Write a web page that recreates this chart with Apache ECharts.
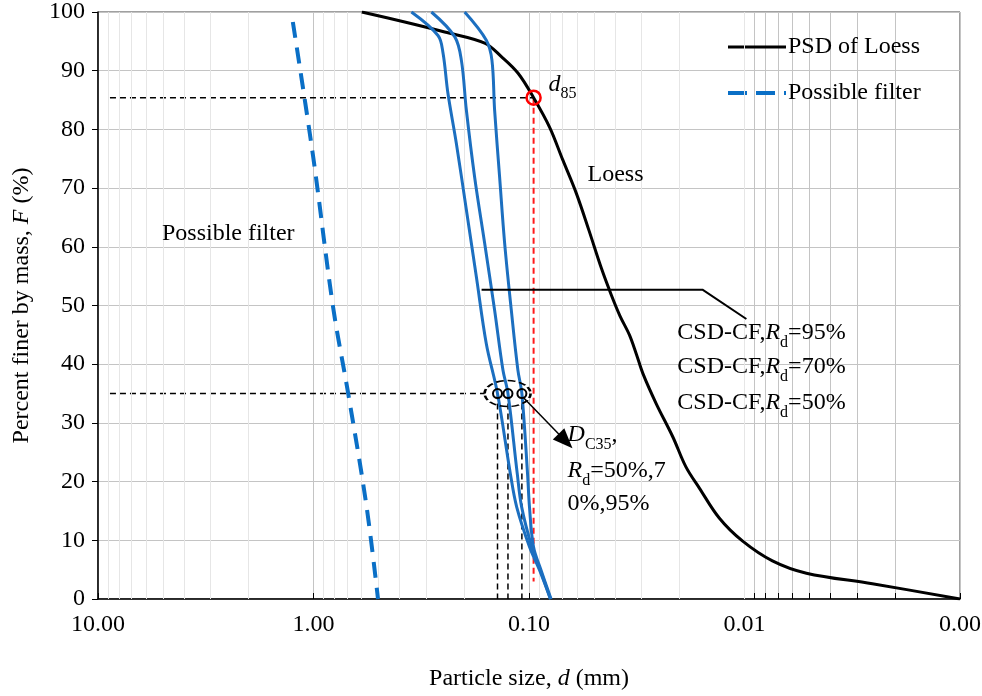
<!DOCTYPE html>
<html><head><meta charset="utf-8">
<script src="https://cdn.jsdelivr.net/npm/echarts@6/dist/echarts.min.js"></script>
<style>html,body{margin:0;padding:0;background:#fff}#c{width:982px;height:696px}</style>
</head><body><div id="c"></div>
<script>
// ---- data (d in mm, F in %) ----
const loess = [[0.597,100],[0.3773,98.3],[0.2462,96.6],[0.1606,94.7],[0.1344,92.4],[0.1126,89.6],[0.0952,85.4],[0.0803,80.4],[0.0697,74.8],[0.0603,69.1],[0.0527,62.8],[0.0460,56.2],[0.0415,51.8],[0.0378,48.2],[0.0342,45.0],[0.0318,41.8],[0.0296,38.4],[0.0257,33.3],[0.0215,27.6],[0.0187,22.5],[0.0162,18.9],[0.0131,13.8],[0.01023,9.9],[0.00742,6.5],[0.00516,4.4],[0.00255,2.6],[0.001,0]];
const csd50 = [[0.3513,100],[0.2644,96],[0.2506,93],[0.2377,86.1],[0.2173,77.6],[0.1953,66.3],[0.1755,54.9],[0.1578,43.5],[0.140,35],[0.1221,21.4],[0.1141,15.7],[0.0995,8.9],[0.0893,4.9],[0.0795,0]];
const csd70 = [[0.2837,100],[0.2213,95.8],[0.2060,91.8],[0.1953,83.3],[0.1788,71.9],[0.1606,60.6],[0.1444,49.2],[0.1321,39.0],[0.1252,35],[0.1134,21.4],[0.1082,15.7],[0.0971,8.9],[0.0886,4.9],[0.0795,0]];
const csd95 = [[0.1989,100],[0.1578,95.2],[0.1486,91.8],[0.1444,83.3],[0.1369,71.9],[0.1297,60.6],[0.1208,49.2],[0.1126,39.0],[0.1079,35],[0.1016,21.4],[0.0995,15.7],[0.0953,8.9],[0.0879,4.9],[0.0790,0]];
const filter = [[1.247,98.3],[1.005,75.5],[0.811,49.7],[0.691,35.1],[0.568,15.9],[0.502,0]];
const d85Point = [0.0952, 85.4];
const dc35Points = [[0.140,35],[0.1252,35],[0.1079,35]];
const refLeft = 8.8;
const redBottom = 3;
const ref35End = 0.1607;
const ellipseCenter = [0.1257, 35];
const leader = [[0.166,52.7],[0.01567,52.7],[0.0098,47.7]];
const arrow = [[0.106,34.3],[0.0677,26.9]];
const xMajor = [10, 1, 0.1, 0.01, 0.001];
const xTickLabels = ['10.00','1.00','0.10','0.01','0.00'];
const minorFactors = [2,3,4,5,6,7,8,9];
const textLabels = [
  {pos:[5.05,62.3], text:'Possible filter'},
  {pos:[0.0535,72.2], text:'Loess'},
  {pos:[0.0811,87.7], text:'{i|d}{s|85}'},
  {pos:[0.0205,45.3], text:'CSD-CF,{ri|R}{s|d}=95%'},
  {pos:[0.0205,39.5], text:'CSD-CF,{ri|R}{s|d}=70%'},
  {pos:[0.0205,33.5], text:'CSD-CF,{ri|R}{s|d}=50%'},
  {pos:[0.0662,22.4], text:'{i|D}{s|C35},\n{ri|R}{s|d}=50%,7\n0%,95%'}
];

// ---- build ----
const FONT = 'Liberation Serif';
const minorVals = [];
[0.001,0.01,0.1,1].forEach(dec => minorFactors.forEach(k => minorVals.push(+(k*dec).toPrecision(3))));
const allTicks = xMajor.concat(minorVals);
const blue = '#1c6fc0';
const fblue = '#0a6fc6';
const base = {fontFamily: FONT, fontSize: 24, color: '#000'};
const rich = {
  i: {fontFamily: FONT, fontSize: 24, fontStyle: 'italic', color:'#000', lineHeight: 30},
  ri: {fontFamily: FONT, fontSize: 24, fontStyle: 'italic', color:'#000', lineHeight: 30},
  s: {fontFamily: FONT, fontSize: 16, color:'#000', verticalAlign: 'bottom', lineHeight: 36}
};
const dashBlack = {color:'#000', width:1.5, type:[6,4]};
const curve = (name, data, color, width, type) => ({type:'line', name, data, symbol:'none', smooth: 0.35,
  lineStyle:{color, width, type: type || 'solid'}, itemStyle:{color}, z:5});

const chart = echarts.init(document.getElementById('c'));
chart.setOption({
  animation: false,
  grid: {left: 98, right: 22, top: 12, bottom: 97, outerBoundsMode: 'none', containLabel: false,
    show: true, borderColor: '#404040', borderWidth: 1, backgroundColor: 'transparent'},
  legend: {
    data: [
      {name:'PSD of Loess', lineStyle:{width:3, color:'#000', type:'solid'}},
      {name:'Possible filter', lineStyle:{width:4, color:fblue, type:[19,9]}}
    ],
    orient: 'vertical', left: 721, top: 30, itemWidth: 58, itemHeight: 20, itemGap: 22,
    itemStyle: {opacity: 0},
    textStyle: Object.assign({}, base, {padding:[0,0,0,-3]})
  },
  xAxis: {
    type: 'log', logBase: 10, min: 0.001, max: 10, inverse: true,
    name: 'Particle size, {i|d} (mm)', nameLocation: 'middle', nameGap: 68,
    nameTextStyle: Object.assign({}, base, {rich: {i: {fontFamily: FONT, fontSize: 24, fontStyle:'italic', color:'#000'}}}),
    axisLine: {lineStyle: {color:'#000', width: 1.5}},
    axisTick: {show: true, inside: true, length: 6, lineStyle:{color:'#000', width:1}, customValues: allTicks},
    axisLabel: Object.assign({}, base, {margin: 14, customValues: xMajor,
      formatter: v => { const i = xMajor.findIndex(m => Math.abs(Math.log10(m) - Math.log10(v)) < 1e-6); return i >= 0 ? xTickLabels[i] : ''; }}),
    splitLine: {show: true, lineStyle: {color:'#c4c4c4', width: 1}}
  },
  yAxis: {
    type: 'value', min: 0, max: 100, interval: 10,
    name: 'Percent finer by mass, {i|F} (%)', nameLocation: 'middle', nameGap: 64,
    nameTextStyle: Object.assign({}, base, {rich: {i: {fontFamily: FONT, fontSize: 24, fontStyle:'italic', color:'#000'}}}),
    axisLine: {show: true, lineStyle: {color:'#000', width: 1.5}},
    axisTick: {show: true, inside: false, length: 6, lineStyle:{color:'#000'}},
    axisLabel: Object.assign({}, base, {margin: 13}),
    splitLine: {show: true, lineStyle: {color:'#c4c4c4', width: 1}}
  },
  series: [
    { // minor vertical grid lines
      type: 'line', name: 'minorGrid', data: [], z: 0, silent: true,
      markLine: {silent: true, symbol: 'none', label: {show:false}, animation:false,
        lineStyle: {color:'#e6e6e6', width: 1, type: 'solid'},
        data: minorVals.map(v => ({xAxis: v}))}
    },
    {type:'line', name:'ref85h', data:[[refLeft, d85Point[1]], d85Point], symbol:'none', lineStyle: dashBlack, z:3, silent:true},
    {type:'line', name:'ref85v', data:[d85Point, [d85Point[0], redBottom]], symbol:'none', lineStyle:{color:'#ff1a1a', width:2, type:[6,4]}, z:3, silent:true},
    {type:'line', name:'ref35h', data:[[refLeft, dc35Points[0][1]], [ref35End, dc35Points[0][1]]], symbol:'none', lineStyle: dashBlack, z:3, silent:true},
    ...dc35Points.map((p,i) => ({type:'line', name:'ref35v'+i, data:[p,[p[0],0]], symbol:'none', lineStyle: dashBlack, z:3, silent:true})),
    curve('PSD of Loess', loess, '#000', 3),
    curve('Possible filter', filter, fblue, 4, [16,10]),
    curve('CSD-CF, Rd=50%', csd50, blue, 3),
    curve('CSD-CF, Rd=70%', csd70, blue, 3),
    curve('CSD-CF, Rd=95%', csd95, blue, 3),
    {type:'line', name:'leader', data: leader, symbol:'none', lineStyle:{color:'#000', width:2}, z:6, silent:true},
    {type:'scatter', name:'d85', data:[d85Point], symbol:'circle', symbolSize:14, itemStyle:{opacity:1, color:'transparent', borderColor:'#ff0000', borderWidth:2.5}, z:8, silent:true},
    {type:'scatter', name:'dc35', data: dc35Points, symbol:'circle', symbolSize:9, itemStyle:{opacity:1, color:'transparent', borderColor:'#000', borderWidth:2}, z:8, silent:true},
    {type:'scatter', name:'ellipse', data:[ellipseCenter], symbol:'circle', symbolSize:[46,26], itemStyle:{opacity:1, color:'transparent', borderColor:'#000', borderWidth:2, borderType:[6,3]}, z:8, silent:true},
    {type:'line', name:'arrowHost', data: [], z:8, silent:true,
      markLine: {silent:true, symbol:['none','triangle'], symbolSize:[16,20], label:{show:false}, animation:false,
        lineStyle:{color:'#000', width:1.5, type:'solid'}, itemStyle:{color:'#000'},
        data: [[{coord: arrow[0]}, {coord: arrow[1]}]]}},
    {type:'scatter', name:'labels', symbolSize: 0, z:9, silent:true, itemStyle:{opacity:1},
      data: textLabels.map(t => ({value: t.pos, label: {formatter: t.text}})),
      label: Object.assign({show:true, opacity:1, position:'right', distance:0, align:'left', verticalAlign:'middle', lineHeight: 30, rich: rich}, base)}
  ]
});
</script></body></html>
